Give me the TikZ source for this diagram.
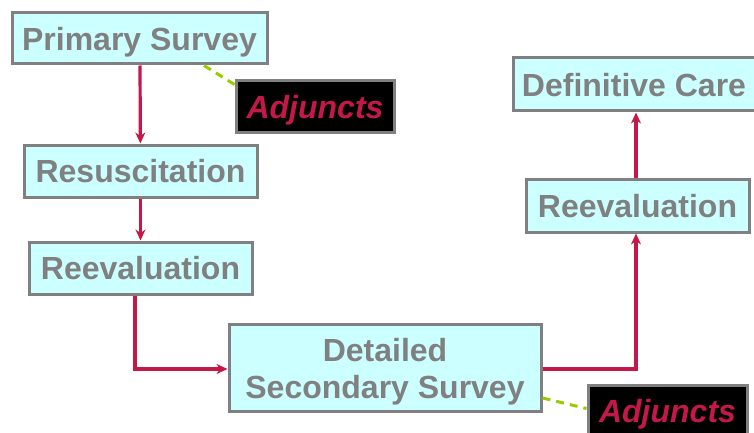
\documentclass[tikz,border=0pt]{standalone}
\usepackage{fontspec}
\setmainfont{Liberation Sans}
\usetikzlibrary{arrows.meta,calc}
\definecolor{boxfill}{HTML}{CCFFFF}
\definecolor{boxline}{HTML}{808080}
\definecolor{flowred}{RGB}{196,24,72}
\definecolor{hintgreen}{HTML}{99CC00}

\begin{document}
\begin{tikzpicture}[x=1pt, y=-1pt,
	stage/.style={draw=boxline, fill=boxfill, line width=3pt, text=boxline, font=\bfseries\fontsize{32}{37}\selectfont, inner sep=0pt, text depth=0pt, align=center},
	adjbox/.style={draw=boxline, fill=black, line width=3pt, text=flowred, font=\bfseries\itshape\fontsize{32}{37}\selectfont, inner sep=0pt, text depth=0pt, minimum width=158pt, minimum height=51pt},
	link/.style={draw=flowred, line width=3.2pt, -{Stealth[length=11pt,width=10pt]}},
	dashlink/.style={draw=hintgreen, line width=3pt, dash pattern=on 8pt off 6pt}]
		\useasboundingbox (0,0) rectangle (754,433);
		\node[stage, minimum width=255pt, minimum height=51pt] (prim) at (139.5,38.5) {Primary Survey};
		\node[adjbox] (adj1) at (315,106.5) {Adjuncts};
		\node[stage, minimum width=233pt, minimum height=52pt] (resus) at (140.5,171) {Resuscitation};
		\node[stage, minimum width=223pt, minimum height=52pt] (reevalL) at (140.5,268) {Reevaluation};
		\node[stage, minimum width=312pt, minimum height=87pt] (detail) at (385,368) {Detailed\\Secondary Survey};
		\node[adjbox, minimum width=159pt] (adj2) at (667.5,410.5) {Adjuncts};
		\node[stage, minimum width=223pt, minimum height=53pt] (reevalR) at (637.5,205.5) {Reevaluation};
		\node[stage, minimum width=242pt, minimum height=53pt] (defc) at (634,84.5) {Definitive Care};

		\draw[link] ([xshift=.5pt]prim.south) -- (resus);
		\draw[link] (resus) -- (reevalL);
		\draw[link] ([xshift=-5.5pt]reevalL.south) |- ([yshift=-1pt]detail.west);
		\draw[link] ([yshift=-1pt]detail.east) -| ([xshift=-1.5pt]reevalR.south);
		\draw[link] ([xshift=-1.5pt]reevalR.north) -- ([xshift=-1.5pt]reevalR.north |- defc.south);
		\draw[dashlink] ($(prim.south)!.5!(prim.south east)$) -- ([yshift=-5pt]adj1.north west);
		\draw[dashlink] ([yshift=-30pt]detail.east) -- ([yshift=2pt]adj2.west);
	\end{tikzpicture}
\end{document}
